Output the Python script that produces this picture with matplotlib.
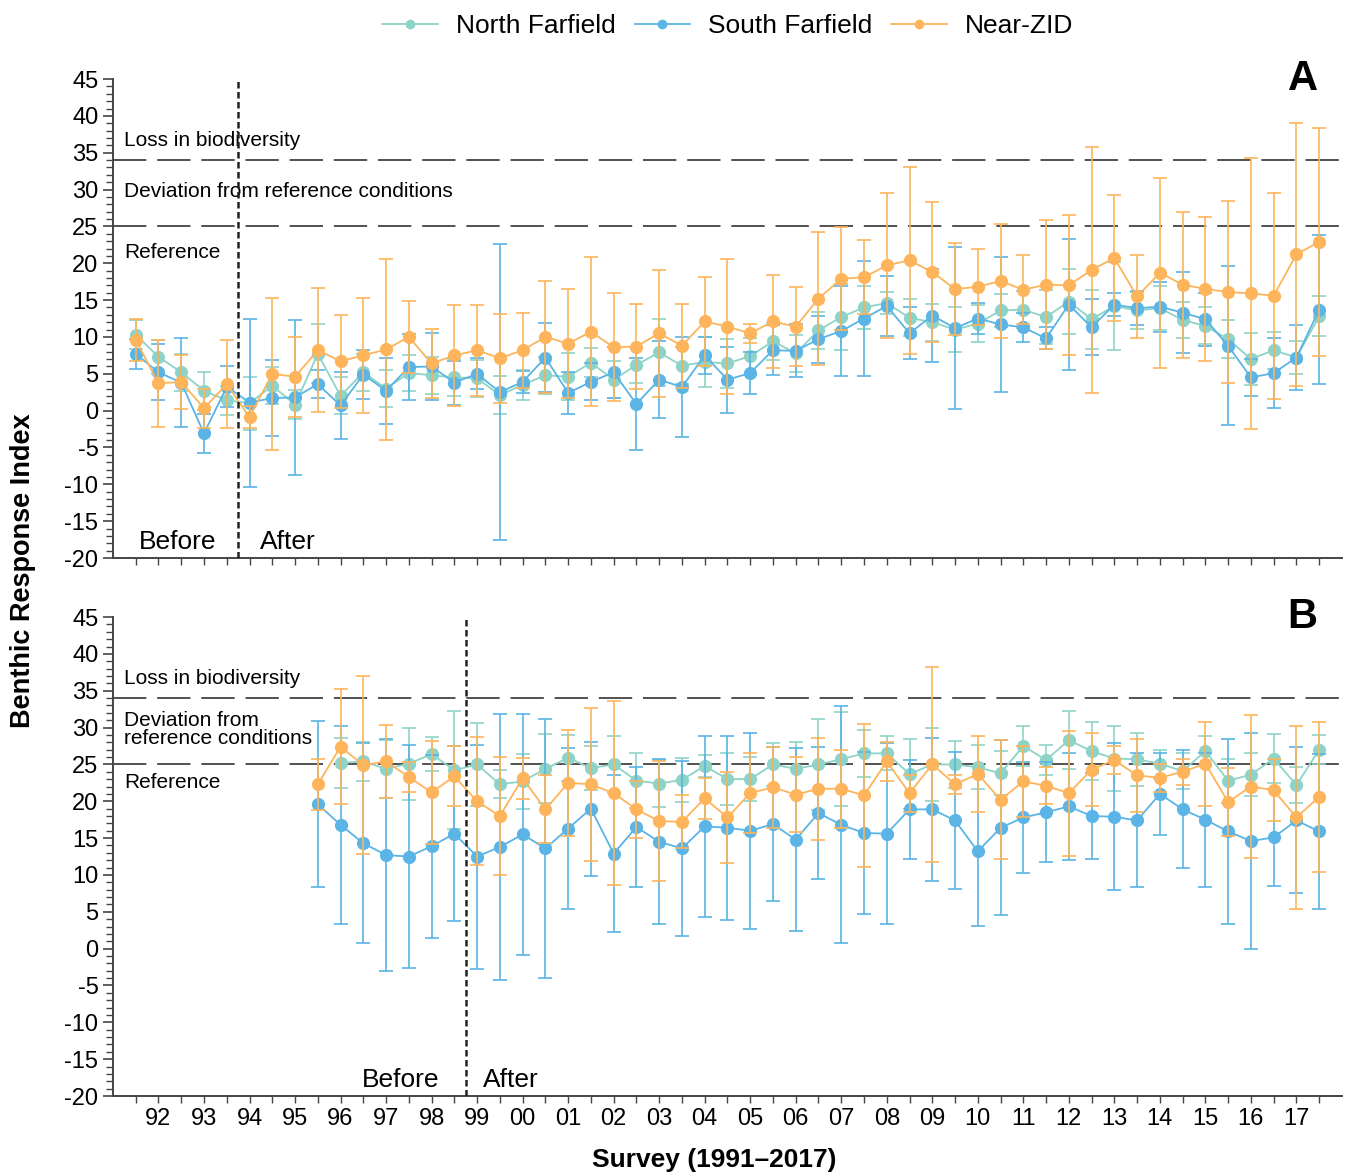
import numpy as np
import matplotlib
matplotlib.use("Agg")
import matplotlib.pyplot as plt
from matplotlib.ticker import MultipleLocator
from matplotlib.lines import Line2D

plt.rcParams['font.family'] = ['Liberation Sans', 'DejaVu Sans']
plt.rcParams['axes.unicode_minus'] = False

nan = np.nan

# survey index 0 = 1991 summer, two surveys per year up to 2017 summer
surveys = np.arange(53)
year_labels = ['92', '93', '94', '95', '96', '97', '98', '99', '00', '01', '02', '03', '04',
               '05', '06', '07', '08', '09', '10', '11', '12', '13', '14', '15', '16', '17']

# panel A
north_a = [10.3, 7.3, 5.2, 2.7, 1.4, 1.0, 3.4, 0.8, 7.7, 2.0, 5.2, 3.0, 5.1,
           4.8, 4.5, 4.4, 2.1, 3.5, 4.8, 4.6, 6.5, 4.2, 6.2, 7.9, 6.1, 6.6,
           6.4, 7.4, 9.4, 7.8, 10.9, 12.7, 14.0, 14.6, 12.6, 12.0, 11.0, 11.8, 13.6,
           13.7, 12.7, 14.8, 12.4, 14.2, 13.6, 13.9, 12.3, 11.5, 9.7, 7.0, 8.2, 7.2, 12.8]
north_a_err = [2.0, 2.3, 2.5, 2.6, 2.0, 3.6, 2.5, 2.0, 4.0, 2.5, 2.5, 2.5, 2.5,
               2.5, 2.5, 2.5, 2.6, 2.0, 2.5, 3.2, 2.0, 2.5, 2.5, 4.5, 2.5, 3.4,
               3.3, 2.5, 2.5, 2.5, 2.5, 4.5, 2.9, 1.5, 2.5, 2.5, 3.1, 2.5, 2.2,
               2.5, 3.7, 4.4, 4.0, 6.0, 2.5, 3.0, 2.5, 2.5, 2.6, 3.5, 2.5, 2.2, 2.7]
south_a = [7.7, 5.2, 3.8, -3.1, 3.25, 1.1, 1.7, 1.8, 3.6, 0.7, 4.9, 2.7, 5.9,
           6.0, 3.8, 5.0, 2.5, 3.9, 7.2, 2.4, 3.9, 5.2, 0.9, 4.2, 3.2, 7.5,
           4.2, 5.1, 8.2, 8.1, 9.7, 10.8, 12.5, 14.2, 10.5, 12.9, 11.2, 12.5, 11.7,
           11.3, 9.8, 14.4, 11.3, 14.4, 13.9, 14.1, 13.3, 12.4, 8.8, 4.5, 5.1, 7.2, 13.7]
south_a_err = [2.0, 3.8, 6.0, 2.7, 2.8, 11.4, 5.2, 10.5, 1.9, 4.5, 3.3, 4.5, 4.5,
               4.5, 3.0, 2.1, 20.1, 1.5, 4.7, 2.9, 2.5, 3.5, 6.2, 5.2, 6.8, 2.5,
               4.5, 2.8, 3.4, 3.6, 3.2, 6.1, 7.8, 4.1, 3.5, 6.3, 11.0, 2.1, 9.2,
               2.0, 1.5, 8.9, 3.8, 1.6, 2.3, 3.4, 5.5, 3.6, 10.8, 2.5, 4.8, 4.4, 10.1]
near_a = [9.6, 3.7, 3.9, 0.3, 3.6, -0.9, 5.0, 4.6, 8.2, 6.7, 7.5, 8.3, 10.0,
          6.4, 7.5, 8.2, 7.1, 8.2, 10.0, 9.1, 10.7, 8.6, 8.7, 10.5, 8.8, 12.1,
          11.4, 10.5, 12.1, 11.4, 15.2, 17.9, 18.1, 19.7, 20.4, 18.8, 16.5, 16.8, 17.6,
          16.4, 17.1, 17.0, 19.1, 20.7, 15.5, 18.7, 17.1, 16.5, 16.1, 15.9, 15.6, 21.2, 22.9]
near_a_err = [2.8, 5.9, 3.7, 2.6, 6.0, 1.5, 10.3, 5.4, 8.4, 6.3, 7.8, 12.3, 4.9,
              4.7, 6.9, 6.2, 6.0, 5.1, 7.6, 7.4, 10.1, 7.3, 5.8, 8.6, 5.7, 6.0,
              9.2, 1.3, 6.3, 5.4, 9.0, 7.0, 5.0, 9.9, 12.7, 9.5, 6.3, 5.2, 7.7,
              4.7, 8.8, 9.5, 16.7, 8.5, 5.6, 12.9, 9.9, 9.8, 12.3, 18.4, 14.0, 17.8, 15.5]

# panel B (no surveys before index 8)
north_b = [nan] * 8 + [nan, 25.2, 25.4, 24.4, 25.1,
           26.4, 24.2, 25.0, 22.3, 22.7, 24.4, 25.9, 24.5, 25.0, 22.8, 22.4, 22.9, 24.8,
           23.0, 23.0, 25.0, 24.4, 25.0, 25.7, 26.5, 26.5, 23.7, 25.0, 25.0, 24.6, 23.8,
           27.5, 25.6, 28.3, 26.8, 25.8, 25.7, 25.1, 24.1, 26.8, 22.8, 23.6, 25.8, 22.2, 27.0]
north_b_err = [nan] * 8 + [nan, 3.4, 2.7, 3.9, 4.9,
               2.3, 8.0, 5.6, 1.9, 3.7, 4.7, 3.1, 3.0, 3.9, 3.7, 3.2, 3.0, 1.5,
               3.5, 3.0, 2.9, 3.7, 6.2, 6.4, 3.2, 2.3, 4.8, 5.0, 3.2, 3.0, 3.0,
               2.7, 2.0, 3.9, 3.9, 4.4, 3.6, 1.9, 2.5, 2.0, 3.0, 2.9, 3.3, 2.4, 2.0]
south_b = [nan] * 8 + [19.6, 16.8, 14.3, 12.7, 12.5,
           13.9, 15.6, 12.5, 13.8, 15.5, 13.6, 16.3, 19.0, 12.9, 16.5, 14.5, 13.6, 16.6,
           16.4, 16.0, 16.9, 14.8, 18.4, 16.8, 15.7, 15.6, 18.9, 18.9, 17.4, 13.2, 16.4,
           17.8, 18.5, 19.3, 18.0, 17.9, 17.4, 21.0, 18.9, 17.5, 15.9, 14.6, 15.1, 17.4, 15.9]
south_b_err = [nan] * 8 + [11.3, 13.4, 13.6, 15.7, 15.1,
               12.4, 11.9, 15.2, 18.1, 16.4, 17.6, 10.9, 9.1, 10.6, 8.2, 11.2, 11.9, 12.3,
               12.5, 13.3, 10.4, 12.4, 9.0, 16.1, 11.0, 12.3, 6.7, 9.7, 9.3, 10.1, 11.9,
               7.5, 6.8, 7.3, 5.9, 10.0, 9.1, 5.6, 8.0, 9.1, 12.5, 14.6, 6.6, 9.9, 10.5]
near_b = [nan] * 8 + [22.3, 27.4, 24.9, 25.4, 23.3,
          21.2, 23.4, 20.0, 18.0, 23.1, 18.9, 22.5, 22.3, 21.1, 18.9, 17.3, 17.2, 20.4,
          17.8, 21.1, 21.9, 20.9, 21.7, 21.7, 20.8, 25.4, 21.1, 25.0, 22.3, 23.7, 20.2,
          22.7, 22.1, 21.1, 24.3, 25.6, 23.5, 23.2, 24.0, 25.1, 19.9, 22.0, 21.5, 17.8, 20.6]
near_b_err = [nan] * 8 + [3.5, 7.8, 12.1, 5.0, 2.0,
              7.0, 4.1, 8.7, 8.0, 2.8, 4.6, 7.2, 10.4, 12.5, 3.9, 8.1, 3.6, 2.8,
              6.2, 5.4, 5.5, 5.1, 6.9, 5.3, 9.7, 2.6, 2.5, 13.2, 1.3, 5.2, 8.1,
              4.8, 2.5, 8.5, 5.0, 1.9, 5.0, 1.9, 1.8, 5.7, 4.6, 9.7, 4.2, 12.4, 10.2]

names = ['North Farfield', 'South Farfield', 'Near-ZID']
colors = ['#8dd3c7', '#5ab4e5', '#fdb45a']

fig = plt.figure(figsize=(13.48, 11.76), dpi=100)
axA = fig.add_axes([0.0838, 0.5255, 0.9117, 0.4073])
axB = fig.add_axes([0.0838, 0.068, 0.9117, 0.4073])


def draw_panel(ax, series, errs, split, letter, before_x, after_x, two_line):
    for k, (vals, err, c) in enumerate(zip(series, errs, colors)):
        ax.errorbar(surveys, vals, yerr=err, fmt='none', ecolor=c,
                    elinewidth=1.2, capsize=5, capthick=1.2, zorder=2 + k)
        ax.plot(surveys, vals, '-o', color=c, ms=9.5, mew=0, lw=1.3, zorder=2.5 + k)
    ax.axhline(34, color='#333333', lw=1.2, ls=(0, (20, 6.5)), zorder=1)
    ax.axhline(25, color='#333333', lw=1.2, ls=(0, (20, 6.5)), zorder=1)
    ax.axvline(split, color='#222222', lw=1.8, ls=(0, (2.6, 1.4)), zorder=6)
    ax.set_xlim(-1, 53)
    ax.set_ylim(-20, 45)
    ax.yaxis.set_major_locator(MultipleLocator(5))
    ax.yaxis.set_minor_locator(MultipleLocator(1))
    ax.set_xticks(surveys)
    ax.tick_params(axis='y', which='major', labelsize=17, length=7, width=1.2, color='#444444')
    ax.tick_params(axis='y', which='minor', length=5, width=1.0, color='#444444')
    ax.tick_params(axis='x', length=5, width=1.0, labelsize=17, color='#444444')
    for s in ['top', 'right']:
        ax.spines[s].set_visible(False)
    for s in ['left', 'bottom']:
        ax.spines[s].set_linewidth(1.4)
        ax.spines[s].set_color('#444444')
    ax.text(-0.5, 36.6, 'Loss in biodiversity', fontsize=15, va='center', ha='left')
    if two_line:
        ax.text(-0.5, 29.7, 'Deviation from\nreference conditions', fontsize=15,
                va='center', ha='left', linespacing=0.95)
        ax.text(-0.5, 22.6, 'Reference', fontsize=15, va='center', ha='left')
    else:
        ax.text(-0.5, 29.7, 'Deviation from reference conditions', fontsize=15,
                va='center', ha='left')
        ax.text(-0.5, 21.5, 'Reference', fontsize=15, va='center', ha='left')
    ax.text(before_x, -17.8, 'Before', fontsize=19, ha='center', va='center')
    ax.text(after_x, -17.8, 'After', fontsize=19, ha='center', va='center')
    ax.text(0.968, 1.0, letter, transform=ax.transAxes, fontsize=30,
            fontweight='bold', ha='center', va='center')


draw_panel(axA, [north_a, south_a, near_a], [north_a_err, south_a_err, near_a_err],
           4.5, 'A', 1.85, 6.7, False)
draw_panel(axB, [north_b, south_b, near_b], [north_b_err, south_b_err, near_b_err],
           14.5, 'B', 11.65, 16.5, True)

axA.set_xticklabels([])
axB.set_xticklabels(['' if i % 2 == 0 else year_labels[i // 2] for i in surveys])

fig.text(0.017, 0.515, 'Benthic Response Index', rotation=90, fontsize=19.5,
         fontweight='bold', ha='center', va='center')
fig.text(0.530, 0.0136, 'Survey (1991\u20132017)', fontsize=19,
         fontweight='bold', ha='center', va='center')

handles = [Line2D([0], [0], color=c, lw=1.3, marker='o', ms=7, mew=0) for c in colors]
fig.legend(handles, names, loc='center', bbox_to_anchor=(0.54, 0.978), ncol=3,
           frameon=False, fontsize=19, handlelength=2.1, columnspacing=0.7,
           handletextpad=0.7)

fig.savefig('out.png', dpi=100)
